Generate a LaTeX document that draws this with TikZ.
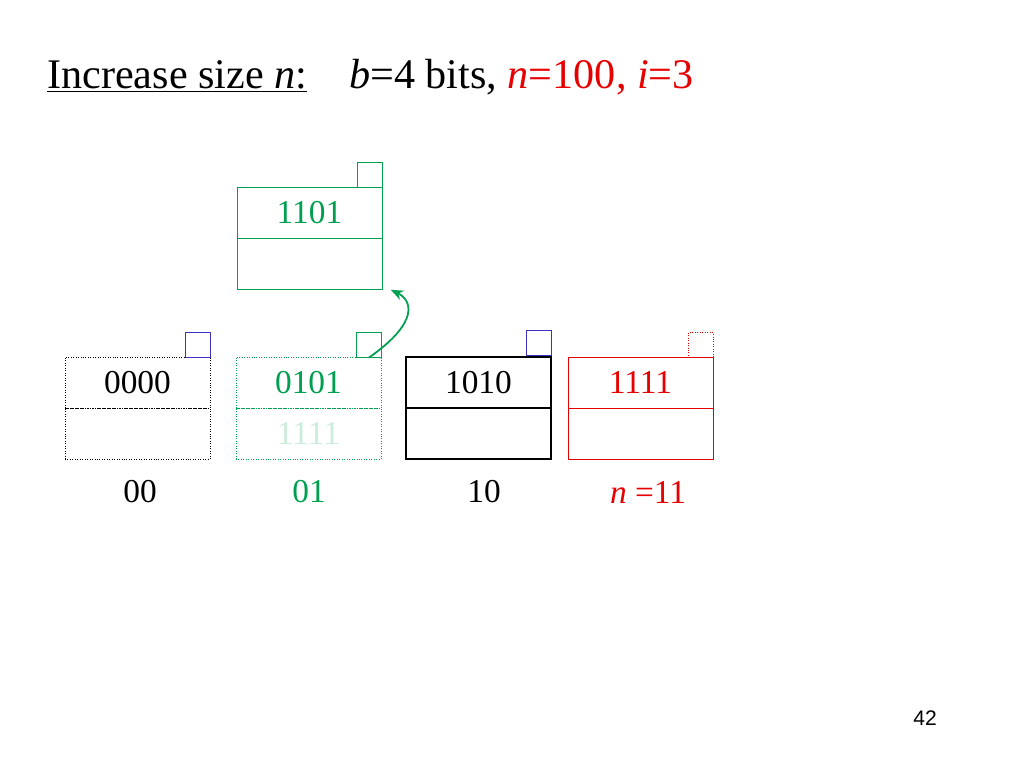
\documentclass[tikz,border=0pt]{standalone}
\usepackage{fontspec}
\setmainfont{Liberation Serif}
\setsansfont{Liberation Sans}
\usetikzlibrary{arrows.meta, positioning}
\definecolor{hgreen}{RGB}{0,160,80}
\definecolor{hred}{RGB}{230,0,0}
\definecolor{hblue}{RGB}{60,50,190}

\begin{document}
\begin{tikzpicture}[
    x=0.02cm, y=-0.02cm,
    font=\fontsize{19}{22}\selectfont,
    cell/.style={draw, minimum width=2.9cm, minimum height=1.02cm, inner sep=0pt, outer sep=0pt},
    ptr/.style={draw, minimum size=0.49cm, inner sep=0pt, outer sep=0pt},
    arrow/.style={-{Stealth[length=2.5mm, width=2mm]}, line width=1pt}
]
    \useasboundingbox (0,0) rectangle (1024,768);

    % Title
    \node[anchor=base west, inner sep=0pt, font=\fontsize{24}{28}\selectfont] (title) at (47,88)
        {\underline{Increase size \textit{n}:}\quad\textit{b}=4 bits, \textcolor{hred}{\textit{n}=100, \textit{i}=3}};

    % Buckets
    \node[cell, densely dotted, anchor=north west] (b0top) at (65,357) {0000};
    \node[cell, densely dotted, below=0pt of b0top] (b0bot) {};
    \node[cell, draw=hgreen, densely dotted, text=hgreen, anchor=north west] (b1top) at (236,357) {0101};
    \node[cell, draw=hgreen, densely dotted, text=hgreen!20, below=0pt of b1top] (b1bot) {1111};
    \node[cell, line width=1.2pt, anchor=north west] (b2top) at (406,357) {1010};
    \node[cell, line width=1.2pt, below=0pt of b2top] (b2bot) {};
    \node[cell, draw=hred, text=hred, anchor=north west] (b3top) at (568,357) {1111};
    \node[cell, draw=hred, below=0pt of b3top] (b3bot) {};

    % New bucket
    \node[cell, draw=hgreen, text=hgreen, anchor=north west] (ntop) at (237,187) {1101};
    \node[cell, draw=hgreen, below=0pt of ntop] (nbot) {};

    % Overflow pointers
    \node[ptr, draw=hblue, anchor=south east] (p0) at (b0top.north east) {};
    \node[ptr, draw=hgreen, anchor=south east] (p1) at (b1top.north east) {};
    \node[ptr, draw=hblue, anchor=south east] (p2) at ([yshift=1pt]b2top.north east) {};
    \node[ptr, draw=hred, densely dotted, anchor=south east] (p3) at (b3top.north east) {};
    \node[ptr, draw=hgreen, anchor=south east] (pn) at (ntop.north east) {};

    % Split arrow
    \draw[arrow, draw=hgreen] (p1.center) ++(0,13) .. controls (420,322) and (412,300) .. ([xshift=5, yshift=-15]nbot.east);

    % Labels
    \node (l0) at (140,492) {00};
    \node[text=hgreen] (l1) at (309,492) {01};
    \node (l2) at (484,492) {10};
    \node[text=hred] (l3) at (648,492) {\textit{n} =11};

    \node[font=\sffamily\fontsize{12}{14}\selectfont] (page) at (925,718) {42};
\end{tikzpicture}
\end{document}
